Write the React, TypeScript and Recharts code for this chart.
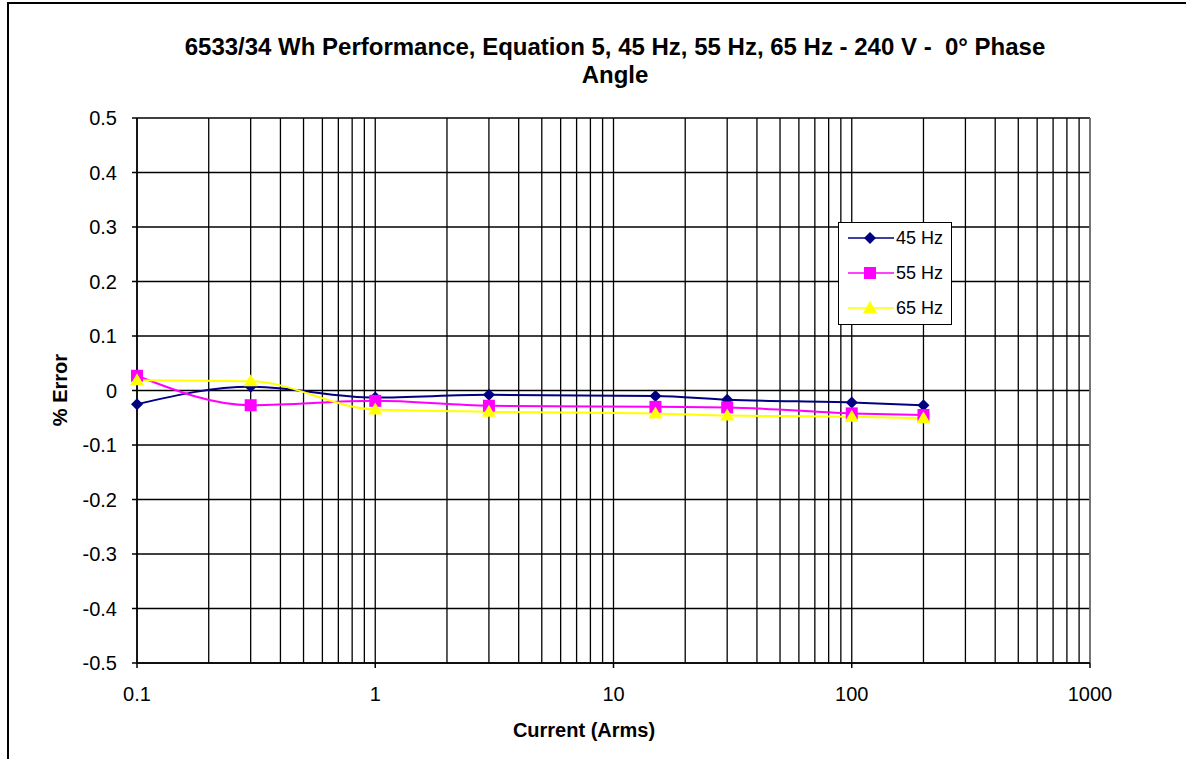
import React from "react";
import { CartesianGrid, Line, LineChart, ReferenceLine, XAxis, YAxis } from "recharts";

// Current (A rms) at which each point was measured
const currents = [0.1, 0.3, 1, 3, 15, 30, 100, 200];
// % error per frequency
const hz45 = [-0.025, 0.007, -0.013, -0.008, -0.01, -0.017, -0.022, -0.027];
const hz55 = [0.027, -0.027, -0.019, -0.028, -0.03, -0.031, -0.042, -0.045];
const hz65 = [0.019, 0.017, -0.035, -0.039, -0.042, -0.046, -0.048, -0.051];

const xTicks = [0.1, 1, 10, 100, 1000];
const xMinor = [
  0.2, 0.3, 0.4, 0.5, 0.6, 0.7, 0.8, 0.9,
  2, 3, 4, 5, 6, 7, 8, 9,
  20, 30, 40, 50, 60, 70, 80, 90,
  200, 300, 400, 500, 600, 700, 800, 900,
];
const yTicks = [-0.5, -0.4, -0.3, -0.2, -0.1, 0, 0.1, 0.2, 0.3, 0.4, 0.5];

const series = [
  { key: "hz45", name: "45 Hz", color: "#000080", marker: "diamond" },
  { key: "hz55", name: "55 Hz", color: "#FF00FF", marker: "square" },
  { key: "hz65", name: "65 Hz", color: "#FFFF00", marker: "triangle" },
];

const data = currents.map((c, i) => ({ current: c, hz45: hz45[i], hz55: hz55[i], hz65: hz65[i] }));

const FONT = "'Liberation Sans', Arial, sans-serif";

function markerPath(kind: string, cx: number, cy: number): string {
  if (kind === "diamond") {
    return `M${cx},${cy - 6} L${cx + 6},${cy} L${cx},${cy + 6} L${cx - 6},${cy} Z`;
  }
  if (kind === "square") {
    return `M${cx - 6},${cy - 6} h12 v12 h-12 Z`;
  }
  return `M${cx},${cy - 7} L${cx + 7},${cy + 5} L${cx - 7},${cy + 5} Z`;
}

function makeDot(kind: string, color: string) {
  return (props: any) => {
    const { cx, cy, index } = props;
    if (cx == null || cy == null) return <g key={index} />;
    return <path key={index} d={markerPath(kind, cx, cy)} fill={color} stroke="none" />;
  };
}

function LegendBox() {
  return (
    <div
      style={{
        position: "absolute",
        left: 838,
        top: 222,
        width: 114,
        height: 103,
        border: "1px solid #000",
        background: "#fff",
        boxSizing: "border-box",
      }}
    >
      {series.map((s, i) => (
        <div key={s.key} style={{ position: "absolute", left: 0, top: 3 + i * 35, height: 30, width: 114 }}>
          <svg width={58} height={30} style={{ position: "absolute", left: 8, top: 0 }}>
            <line x1={1} y1={12} x2={47} y2={12} stroke={s.color} strokeWidth={1.5} />
            <path d={markerPath(s.marker, 23, 12)} fill={s.color} />
          </svg>
          <span
            style={{
              position: "absolute",
              left: 57,
              top: 1,
              fontFamily: FONT,
              fontSize: 18,
              lineHeight: "22px",
              color: "#000",
            }}
          >
            {s.name}
          </span>
        </div>
      ))}
    </div>
  );
}

export default function App() {
  return (
    <div style={{ position: "absolute", left: 0, top: 0, width: 1186, height: 759, background: "#fff", overflow: "hidden" }}>
      <div
        style={{
          position: "absolute",
          left: 7,
          top: 2,
          width: 1200,
          height: 800,
          borderLeft: "2px solid #000",
          borderTop: "2px solid #000",
        }}
      />
      <div
        style={{
          position: "absolute",
          left: 615 - 500,
          width: 1000,
          top: 33,
          textAlign: "center",
          fontFamily: FONT,
          fontWeight: "bold",
          fontSize: 24,
          lineHeight: "28px",
          whiteSpace: "pre",
          color: "#000",
        }}
      >
        {"6533/34 Wh Performance, Equation 5, 45 Hz, 55 Hz, 65 Hz - 240 V -  0° Phase\nAngle"}
      </div>
      <LineChart
        width={1186}
        height={759}
        data={data}
        margin={{ top: 118, right: 96, bottom: 66, left: 77 }}
        style={{ position: "absolute", left: 0, top: 0 }}
      >
        <CartesianGrid stroke="#000" strokeWidth={1.3} horizontal vertical />
        {xMinor.map((v) => (
          <ReferenceLine key={v} x={v} stroke="#000" strokeWidth={1.3} />
        ))}
        <ReferenceLine x={1000} stroke="#808080" strokeWidth={1.5} />
        <XAxis
          dataKey="current"
          type="number"
          scale="log"
          domain={[0.1, 1000]}
          ticks={xTicks}
          height={30}
          axisLine={{ stroke: "#000", strokeWidth: 1.5 }}
          tickLine={{ stroke: "#000", strokeWidth: 1.5 }}
          tickSize={5}
          tickMargin={19}
          tick={{ fontSize: 20, fill: "#000", fontFamily: FONT }}
          tickFormatter={(v) => String(v)}
        />
        <YAxis
          type="number"
          domain={[-0.5, 0.5]}
          ticks={yTicks}
          width={60}
          axisLine={{ stroke: "#000", strokeWidth: 1.5 }}
          tickLine={{ stroke: "#000", strokeWidth: 1.5 }}
          tickSize={5}
          tickMargin={15}
          tick={{ fontSize: 20, fill: "#000", fontFamily: FONT }}
          tickFormatter={(v) => String(Math.round(v * 10) / 10)}
        />
        {series.map((s) => (
          <Line
            key={s.key}
            dataKey={s.key}
            name={s.name}
            type="monotone"
            stroke={s.color}
            strokeWidth={2}
            dot={makeDot(s.marker, s.color)}
            activeDot={false}
            isAnimationActive={false}
          />
        ))}
      </LineChart>
      <div
        style={{
          position: "absolute",
          left: 384,
          width: 400,
          top: 718,
          textAlign: "center",
          fontFamily: FONT,
          fontWeight: "bold",
          fontSize: 20,
          lineHeight: "24px",
          color: "#000",
        }}
      >
        Current (Arms)
      </div>
      <div
        style={{
          position: "absolute",
          left: 60 - 100,
          top: 390 - 12,
          width: 200,
          textAlign: "center",
          transform: "rotate(-90deg)",
          fontFamily: FONT,
          fontWeight: "bold",
          fontSize: 20,
          lineHeight: "24px",
          color: "#000",
        }}
      >
        % Error
      </div>
      <LegendBox />
    </div>
  );
}
